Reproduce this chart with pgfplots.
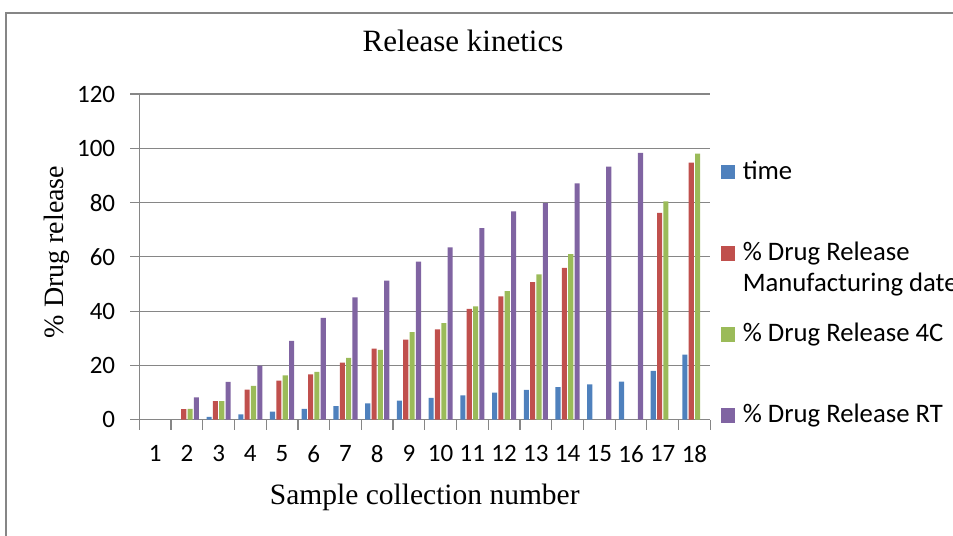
\documentclass[border=0pt]{standalone}
\usepackage{pgfplots}
\pgfplotsset{compat=1.18}
\usepackage{fontspec}
\setmainfont{Liberation Serif}
\newfontfamily\cali{Carlito}
\definecolor{cblue}{RGB}{79,129,189}
\definecolor{cred}{RGB}{192,80,77}
\definecolor{cgreen}{RGB}{155,187,89}
\definecolor{cpurple}{RGB}{128,100,162}
\definecolor{gridgray}{RGB}{134,134,134}
\begin{document}
\begin{tikzpicture}
\useasboundingbox (0,0) rectangle (953bp,-536bp);
\draw[gridgray, line width=1.5bp] (6bp,-536bp) -- (6bp,-13bp) -- (953bp,-13bp);
\node[font=\fontsize{31bp}{36bp}\selectfont, inner sep=0pt] at (463bp,-40.7bp) {Release kinetics};
\begin{axis}[
  at={(139.3bp,-419.7bp)}, anchor=south west,
  scale only axis, width=571bp, height=325.7bp,
  xmin=0.5, xmax=18.5, ymin=0, ymax=120,
  ybar=1.24bp, bar width=5.1bp,
  axis lines*=left,
  axis line style={draw=gridgray, line width=1.2bp, -},
  ymajorgrids, grid style={draw=gridgray, line width=1.2bp},
  ytick={0,20,...,120},
  xtick={1,...,18},
  minor xtick={0.5,1.5,...,18.5},
  major x tick style={draw=none},
  tick align=outside,
  major tick length=9bp, minor tick length=10bp,
  tick style={draw=gridgray, line width=1.2bp},
  /pgf/number format/assume math mode=true,
  tick label style={font=\cali\fontsize{25bp}{29bp}\selectfont, inner sep=0pt},
  yticklabel style={anchor=east, xshift=-15bp},
  xticklabel style={anchor=north, yshift=-16.5bp},
  xlabel={Sample collection number},
  ylabel={\% Drug release},
  every axis x label/.style={at={(rel axis cs:0.5,-0.240)}, anchor=center, inner sep=0pt, font=\fontsize{29.5bp}{34bp}\selectfont},
  every axis y label/.style={at={(rel axis cs:-0.144,0.515)}, anchor=center, rotate=90, inner sep=0pt, font=\fontsize{28bp}{33bp}\selectfont},
  legend image code/.code={\fill[#1] (0bp,0bp) rectangle (14.5bp,14.5bp);},
  legend cell align=left,
  legend style={at={(rel axis cs:1.018,0.800)}, anchor=north west, draw=none, fill=none, inner sep=0pt, row sep=59.7bp, column sep=7.5bp, nodes={inner sep=0pt}, cells={anchor=base west}, font=\cali\fontsize{26.7bp}{30.7bp}\selectfont},
]
\addplot[fill=cblue, draw=none] coordinates {(3,1) (4,2) (5,3) (6,4) (7,5) (8,6) (9,7) (10,8) (11,9) (12,10) (13,11) (14,12) (15,13) (16,14) (17,18) (18,24)};
\addplot[fill=cred, draw=none] coordinates {(2,3.9) (3,6.8) (4,11.1) (5,14.4) (6,16.7) (7,21.0) (8,26.2) (9,29.5) (10,33.3) (11,40.8) (12,45.4) (13,50.7) (14,55.9) (17,76.2) (18,94.7)};
\addplot[fill=cgreen, draw=none] coordinates {(2,4.0) (3,6.8) (4,12.5) (5,16.3) (6,17.6) (7,22.8) (8,25.7) (9,32.3) (10,35.6) (11,41.8) (12,47.4) (13,53.5) (14,61.0) (17,80.4) (18,98.0)};
\addplot[fill=cpurple, draw=none] coordinates {(2,8.2) (3,13.9) (4,19.9) (5,29.0) (6,37.5) (7,45.1) (8,51.2) (9,58.2) (10,63.5) (11,70.6) (12,76.8) (13,79.8) (14,87.1) (15,93.2) (16,98.3)};
\legend{\raisebox{0pt}[20bp][0pt]{time},
  \raisebox{0pt}[20bp][0pt]{\begin{tabular}[t]{@{}l@{}}\% Drug Release\\Manufacturing date\end{tabular}},
  \raisebox{0pt}[20bp][0pt]{\% Drug Release 4C},
  \raisebox{0pt}[20bp][0pt]{\% Drug Release RT}}
\end{axis}
\end{tikzpicture}
\end{document}
